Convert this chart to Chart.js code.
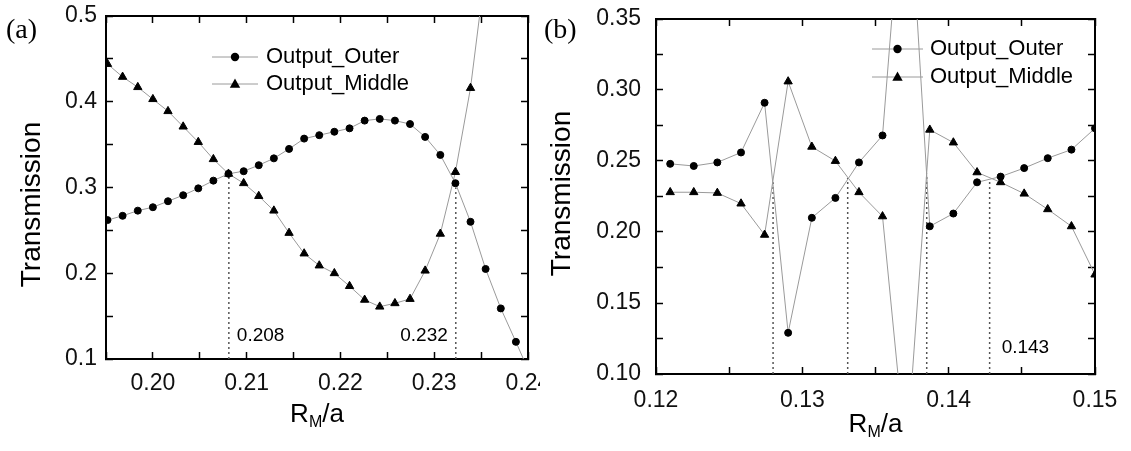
<!DOCTYPE html>
<html>
<head>
<meta charset="utf-8">
<script src="https://cdn.jsdelivr.net/npm/chart.js@4.4.0/dist/chart.umd.min.js"></script>
<style>
  html, body { margin: 0; padding: 0; background: #fff; }
  #wrap { position: relative; width: 1131px; height: 451px; overflow: hidden; background: #fff; }
  #chartA { position: absolute; left: 0; top: 0; }
  #chartB { position: absolute; left: 540px; top: 0; }
</style>
</head>
<body>
<div id="wrap">
  <canvas id="chartA" width="540" height="451"></canvas>
  <canvas id="chartB" width="591" height="451"></canvas>
</div>
<script>
// ---- panel (a) ----
const xA = [0.19516, 0.19677, 0.19839, 0.20000, 0.20161, 0.20323, 0.20484, 0.20645, 0.20806, 0.20968,
            0.21129, 0.21290, 0.21452, 0.21613, 0.21774, 0.21935, 0.22097, 0.22258, 0.22419, 0.22581,
            0.22742, 0.22903, 0.23065, 0.23226, 0.23387, 0.23548, 0.23710, 0.23871, 0.24032];
const outerA = [0.262, 0.267, 0.273, 0.277, 0.284, 0.291, 0.299, 0.308, 0.316, 0.319,
                0.326, 0.334, 0.345, 0.357, 0.361, 0.365, 0.369, 0.378, 0.380, 0.378,
                0.374, 0.359, 0.338, 0.305, 0.260, 0.205, 0.159, 0.120, 0.080];
const middleA = [0.444, 0.429, 0.417, 0.403, 0.389, 0.371, 0.353, 0.333, 0.316, 0.305,
                 0.290, 0.273, 0.247, 0.223, 0.209, 0.200, 0.185, 0.169, 0.161, 0.165,
                 0.170, 0.203, 0.246, 0.318, 0.416, 0.556];
const crossAX = [0.2081, 0.2323];
const crossAY = [0.316, 0.300];
const crossALabels = ['0.208', '0.232'];

// ---- panel (b) ----
const xB = [0.12097, 0.12258, 0.12419, 0.12581, 0.12742, 0.12903, 0.13065, 0.13226, 0.13387, 0.13548,
            0.13710, 0.13871, 0.14032, 0.14194, 0.14355, 0.14516, 0.14677, 0.14839, 0.15000];
const outerB = [0.248, 0.2465, 0.249, 0.256, 0.291, 0.129, 0.210, 0.224, 0.249, 0.268,
                0.478, 0.204, 0.213, 0.235, 0.239, 0.245, 0.252, 0.258, 0.273];
const middleB = [0.228, 0.228, 0.2275, 0.220, 0.198, 0.306, 0.260, 0.250, 0.228, 0.211,
                 0.040, 0.272, 0.263, 0.242, 0.235, 0.227, 0.216, 0.204, 0.170];
const crossBX = [0.1280, 0.1331, 0.1385, 0.1428];
const crossBY = [0.235, 0.238, 0.241, 0.237];
const crossBLabels = ['', '', '', '0.143'];

const seriesNames = ['Output_Outer', 'Output_Middle'];

const SANS = '"Liberation Sans", Arial, sans-serif';
const LINE_GRAY = '#9a9a9a';

function pts(xs, ys) {
  return ys.map((y, i) => ({ x: xs[i], y: y }));
}

function isMajor(v, step) {
  const r = v / step;
  return Math.abs(r - Math.round(r)) < 1e-6;
}

function axis(pos, min, max, step, labelStep, digits, showLabels, padding, size) {
  return {
    type: 'linear',
    position: pos,
    min: min,
    max: max,
    afterFit(s) {
      if (pos === 'left' || pos === 'right') s.width = size; else s.height = size;
      s.paddingLeft = 0; s.paddingRight = 0; s.paddingTop = 0; s.paddingBottom = 0;
    },
    border: { display: true, color: '#000', width: 2 },
    grid: { drawOnChartArea: false, drawTicks: true, tickLength: -7, tickColor: '#000', tickWidth: 1.5 },
    ticks: {
      display: showLabels,
      stepSize: step,
      autoSkip: false,
      maxRotation: 0,
      minRotation: 0,
      padding: padding,
      color: '#111',
      font: { family: SANS, size: 23 },
      callback: (v) => isMajor(v, labelStep) ? v.toFixed(digits) : ''
    }
  };
}

// titles, legend, panel tag and crossing labels
const decor = {
  id: 'decor',
  afterDraw(chart, args, o) {
    const ctx = chart.ctx, area = chart.chartArea;
    const sx = chart.scales.x;
    ctx.save();
    ctx.fillStyle = '#000';

    // panel tag
    ctx.font = '28px "Liberation Serif", "Times New Roman", serif';
    ctx.textAlign = 'left';
    ctx.textBaseline = 'middle';
    ctx.fillText(o.tag, o.tagX, o.tagY);

    // y title
    ctx.save();
    ctx.font = '28px ' + SANS;
    ctx.translate(o.yTitleX, (area.top + area.bottom) / 2 + o.yTitleDy);
    ctx.rotate(-Math.PI / 2);
    ctx.textAlign = 'center';
    ctx.fillText('Transmission', 0, 0);
    ctx.restore();

    // x title R_M/a
    const big = '26px ' + SANS, small = '16px ' + SANS;
    ctx.font = big; const wR = ctx.measureText('R').width, wA = ctx.measureText('/a').width;
    ctx.font = small; const wM = ctx.measureText('M').width;
    let tx = (area.left + area.right) / 2 - (wR + wM + wA) / 2;
    ctx.textAlign = 'left';
    ctx.font = big; ctx.fillText('R', tx, o.xTitleY); tx += wR;
    ctx.font = small; ctx.fillText('M', tx, o.xTitleY + 8); tx += wM;
    ctx.font = big; ctx.fillText('/a', tx, o.xTitleY);

    // legend
    ctx.font = '22px ' + SANS;
    seriesNames.forEach((name, i) => {
      const y = o.legY[i];
      ctx.strokeStyle = LINE_GRAY;
      ctx.lineWidth = 1;
      ctx.beginPath();
      ctx.moveTo(o.legX0, y); ctx.lineTo(o.legX1, y);
      ctx.stroke();
      const cx = (o.legX0 + o.legX1) / 2;
      ctx.fillStyle = '#000';
      ctx.beginPath();
      if (i === 0) {
        ctx.arc(cx, y, 4.2, 0, Math.PI * 2);
      } else {
        ctx.moveTo(cx, y - 5.5); ctx.lineTo(cx + 5.2, y + 3.8); ctx.lineTo(cx - 5.2, y + 3.8); ctx.closePath();
      }
      ctx.fill();
      ctx.fillText(name, o.legText, y);
    });

    // crossing value labels
    ctx.font = '19px ' + SANS;
    o.crossX.forEach((cx, i) => {
      const txt = o.crossLabels[i];
      if (!txt) return;
      const px = sx.getPixelForValue(cx);
      const side = o.crossSide[i];
      ctx.textAlign = side > 0 ? 'left' : 'right';
      ctx.fillText(txt, px + side * o.crossGap, area.bottom - o.crossDy);
    });
    ctx.restore();
  }
};

function panel(id, xs, outer, middle, cx, cy, yMin, scales, deco, pad) {
  const dotted = cx.map((x, i) => ({
    data: [{ x: x, y: yMin }, { x: x, y: cy[i] }],
    showLine: true,
    borderColor: '#555',
    borderWidth: 1.5,
    borderDash: [2, 3],
    pointRadius: 0
  }));
  return new Chart(document.getElementById(id), {
    type: 'scatter',
    data: {
      datasets: [
        {
          label: seriesNames[0], data: pts(xs, outer), showLine: true,
          borderColor: LINE_GRAY, borderWidth: 1,
          pointStyle: 'circle', pointRadius: 3.5, pointBorderWidth: 1,
          pointBackgroundColor: '#000', pointBorderColor: '#000'
        },
        {
          label: seriesNames[1], data: pts(xs, middle), showLine: true,
          borderColor: LINE_GRAY, borderWidth: 1,
          pointStyle: 'triangle', pointRadius: 4.8, pointBorderWidth: 1,
          pointBackgroundColor: '#000', pointBorderColor: '#000'
        }
      ].concat(dotted)
    },
    options: {
      responsive: false,
      animation: false,
      layout: { padding: pad },
      plugins: {
        legend: { display: false },
        tooltip: { enabled: false },
        decor: deco
      },
      scales: scales
    },
    plugins: [decor]
  });
}

// Panel (a)
panel('chartA', xA, outerA, middleA, crossAX, crossAY, 0.1, {
  x: axis('bottom', 0.195, 0.24, 0.005, 0.01, 2, true, 18, 92),
  x2: axis('top', 0.195, 0.24, 0.005, 0.01, 2, false, 0, 0),
  y: axis('left', 0.1, 0.5, 0.05, 0.1, 1, true, 16, 106),
  y2: axis('right', 0.1, 0.5, 0.05, 0.1, 1, false, 0, 0)
}, {
  tag: '(a)', tagX: 6, tagY: 31,
  yTitleX: 32, yTitleDy: 17,
  xTitleY: 415,
  legX0: 212, legX1: 258, legText: 266, legY: [57, 84],
  crossX: crossAX, crossLabels: crossALabels, crossSide: [1, -1], crossGap: 8, crossDy: 23
}, { top: 16, right: 12, left: 0, bottom: 0 });

// Panel (b)
panel('chartB', xB, outerB, middleB, crossBX, crossBY, 0.1, {
  x: axis('bottom', 0.12, 0.15, 0.005, 0.01, 2, true, 20, 77),
  x2: axis('top', 0.12, 0.15, 0.005, 0.01, 2, false, 0, 0),
  y: axis('left', 0.1, 0.35, 0.025, 0.05, 2, true, 22, 116),
  y2: axis('right', 0.1, 0.35, 0.025, 0.05, 2, false, 0, 0)
}, {
  tag: '(b)', tagX: 4, tagY: 31,
  yTitleX: 22, yTitleDy: -3,
  xTitleY: 425,
  legX0: 332, legX1: 383, legText: 390, legY: [49, 77],
  crossX: crossBX, crossLabels: crossBLabels, crossSide: [1, 1, 1, 1], crossGap: 12, crossDy: 26
}, { top: 19, right: 36, left: 0, bottom: 0 });
</script>
</body>
</html>
